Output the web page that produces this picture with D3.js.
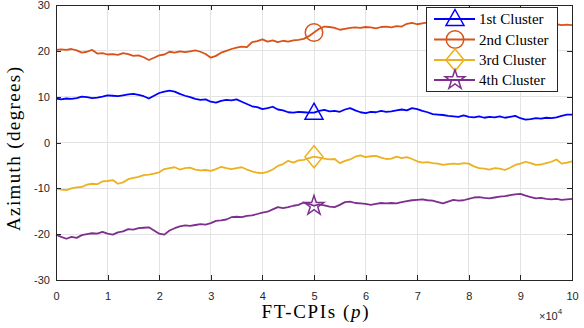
<!DOCTYPE html>
<html><head><meta charset="utf-8">
<script src="https://cdn.jsdelivr.net/npm/d3@7"></script>
<style>body{margin:0;background:#fff}svg{display:block}</style>
</head><body>
<svg id="c" width="584" height="328"></svg>
<script>
// x in units of FT-CPIs (0..100000), sampled every 1000
const xStep = 1000;
const seriesNames = ["1st Cluster","2nd Cluster","3rd Cluster","4th Cluster"];
const cluster1 = [9.6,9.4,9.6,9.5,9.7,10.0,9.9,9.7,9.8,10.0,
 10.3,10.2,10.1,10.3,10.5,10.6,10.4,10.1,9.6,10.2,
 10.8,11.1,11.3,11.1,10.6,10.2,9.9,9.5,9.3,9.4,
 8.9,8.7,9.1,9.3,9.2,9.4,8.9,8.4,7.9,7.7,
 7.3,7.5,7.8,7.2,7.0,6.6,6.5,6.7,6.6,6.5,
 6.5,6.9,7.1,6.8,6.9,6.7,7.2,7.5,7.0,6.6,
 6.4,6.7,6.6,6.9,6.7,6.8,7.0,7.2,7.0,7.5,
 7.3,6.9,6.6,6.2,6.1,6.0,5.8,5.7,5.6,5.9,
 5.6,5.5,5.7,5.4,5.6,5.5,5.7,5.4,5.6,5.8,
 5.3,5.0,5.1,5.3,5.2,5.4,5.3,5.5,5.8,6.1,6.1];
const cluster2 = [20.2,20.3,20.2,20.4,20.1,19.6,19.8,20.2,19.4,19.5,
 19.2,19.3,19.1,19.5,19.3,18.9,19.0,18.6,18.0,18.5,
 19.0,19.2,19.8,19.6,19.9,19.7,19.9,20.1,19.8,19.3,
 18.5,18.9,19.6,20.0,20.4,20.7,20.9,20.8,21.9,22.1,
 22.5,22.0,22.3,21.9,22.2,22.0,22.3,22.4,22.6,23.2,
 24.0,24.8,25.3,25.2,25.0,24.6,24.8,25.0,25.1,25.0,
 25.2,25.1,24.9,25.2,25.3,25.1,25.4,25.3,25.9,26.1,
 25.8,26.0,26.2,26.0,25.9,26.1,25.9,26.0,26.2,26.0,
 25.9,26.1,26.0,25.8,26.0,26.1,25.9,26.0,25.8,25.9,
 26.0,25.8,25.9,25.7,25.8,25.7,25.9,25.8,25.6,25.7,25.6];
const cluster3 = [-10.0,-10.3,-10.4,-10.0,-9.8,-9.7,-9.2,-9.0,-9.1,-8.5,
 -8.4,-8.2,-9.0,-8.7,-8.0,-7.7,-7.5,-7.1,-7.0,-6.8,
 -6.5,-5.8,-5.6,-5.4,-5.9,-5.6,-5.5,-5.9,-6.1,-6.0,
 -6.2,-5.8,-5.3,-5.6,-5.8,-5.6,-5.4,-5.9,-6.3,-6.6,
 -6.7,-6.4,-5.9,-5.1,-4.7,-4.0,-4.4,-3.9,-3.8,-3.4,
 -3.1,-3.3,-3.5,-3.7,-3.6,-4.5,-4.0,-3.7,-3.1,-2.8,
 -3.2,-3.0,-2.9,-3.3,-3.6,-3.5,-3.1,-3.4,-3.2,-3.6,
 -4.1,-4.4,-4.3,-4.5,-4.6,-4.9,-4.7,-4.6,-4.7,-4.5,
 -4.6,-5.2,-5.6,-5.7,-5.9,-5.6,-5.7,-6.0,-5.5,-4.9,
 -4.6,-4.2,-4.5,-4.9,-4.8,-4.5,-4.2,-3.7,-4.6,-4.4,-4.1];
const cluster4 = [-20.1,-20.6,-21.0,-20.6,-20.8,-20.2,-20.0,-19.8,-19.9,-19.5,
 -19.9,-20.1,-19.6,-19.4,-18.9,-19.0,-18.7,-18.6,-18.5,-19.2,
 -19.9,-20.1,-19.2,-18.7,-18.3,-18.1,-18.2,-18.0,-17.8,-17.9,
 -17.6,-17.1,-17.0,-16.8,-16.3,-16.2,-16.3,-16.0,-15.9,-15.6,
 -15.3,-15.1,-14.6,-14.1,-14.3,-14.1,-13.8,-13.6,-13.1,-13.4,
 -13.8,-13.5,-13.7,-14.0,-14.1,-13.6,-13.0,-12.9,-13.2,-13.3,
 -13.4,-13.6,-13.4,-13.2,-13.3,-13.2,-13.3,-13.0,-12.8,-12.6,
 -12.5,-12.4,-12.6,-12.7,-13.0,-13.3,-12.9,-12.5,-12.7,-12.6,
 -12.3,-12.0,-11.9,-12.1,-12.2,-12.0,-11.8,-11.7,-11.5,-11.3,
 -11.2,-11.6,-11.9,-12.2,-12.1,-12.3,-12.4,-12.3,-12.5,-12.4,-12.3];
const markerX = 50000;
const xTicks = [0,10000,20000,30000,40000,50000,60000,70000,80000,90000,100000];
const xTickLabels = ["0","1","2","3","4","5","6","7","8","9","10"];
const yTicks = [-30,-20,-10,0,10,20,30];
const yTickLabels = ["-30","-20","-10","0","10","20","30"];
const colors = ["#0000ff","#d95319","#edb120","#7e2f8e"];
const markerTypes = ["triangle","circle","diamond","star"];

const allSeries = [cluster1, cluster2, cluster3, cluster4];
const svg = d3.select("#c");
const L = 56, R = 572, T = 5, B = 280;
const x = d3.scaleLinear().domain([0,100000]).range([L,R]);
const y = d3.scaleLinear().domain([-30,30]).range([B,T]);
const axisColor = "#262626";
const tickFont = "'Liberation Sans', Arial, sans-serif";
const serif = "'Liberation Serif', 'Times New Roman', serif";

// grid
const g = svg.append("g");
g.selectAll(".gx").data(xTicks).join("line")
 .attr("x1",d=>x(d)).attr("x2",d=>x(d)).attr("y1",T).attr("y2",B)
 .attr("stroke","#e3e3e3").attr("stroke-width",1).attr("shape-rendering","crispEdges");
g.selectAll(".gy").data(yTicks).join("line")
 .attr("x1",L).attr("x2",R).attr("y1",d=>y(d)).attr("y2",d=>y(d))
 .attr("stroke","#e3e3e3").attr("stroke-width",1).attr("shape-rendering","crispEdges");

// series lines
const line = d3.line().x((d,i)=>x(i*xStep)).y(d=>y(d));
allSeries.forEach((s,k)=>{
  svg.append("path").datum(s).attr("d",line).attr("fill","none")
    .attr("stroke",colors[k]).attr("stroke-width",1.8).attr("stroke-linejoin","round");
});

function markerPath(type){
  if(type==="triangle") return "M0,-9.5L9,6.5L-9,6.5Z";
  if(type==="circle") return d3.symbol(d3.symbolCircle, 240)();
  if(type==="diamond") return "M0,-11L9,0L0,11L-9,0Z";
  return d3.symbol(d3.symbolStar, 120)();
}
allSeries.forEach((s,k)=>{
  const i = markerX/xStep;
  svg.append("path").attr("d",markerPath(markerTypes[k]))
    .attr("transform",`translate(${x(markerX)},${y(s[i])})`)
    .attr("fill","none").attr("stroke",colors[k]).attr("stroke-width",1.5);
});

// axes (box with inward ticks)
const ax = svg.append("g").attr("transform",`translate(0,${B})`)
  .call(d3.axisBottom(x).tickValues(xTicks).tickFormat((d,i)=>xTickLabels[i]).tickSizeInner(-5).tickSizeOuter(0).tickPadding(12));
const ay = svg.append("g").attr("transform",`translate(${L},0)`)
  .call(d3.axisLeft(y).tickValues(yTicks).tickFormat((d,i)=>yTickLabels[i]).tickSizeInner(-5).tickSizeOuter(0).tickPadding(6));
const axT = svg.append("g").attr("transform",`translate(0,${T})`)
  .call(d3.axisTop(x).tickValues(xTicks).tickFormat("").tickSizeInner(-5).tickSizeOuter(0));
const ayR = svg.append("g").attr("transform",`translate(${R},0)`)
  .call(d3.axisRight(y).tickValues(yTicks).tickFormat("").tickSizeInner(-5).tickSizeOuter(0));
[ax,ay,axT,ayR].forEach(a=>{
  a.selectAll("path").attr("stroke",axisColor).attr("stroke-width",1).attr("shape-rendering","crispEdges");
  a.selectAll("line").attr("stroke",axisColor).attr("shape-rendering","crispEdges");
  a.selectAll("text").attr("fill",axisColor).style("font-family",tickFont).style("font-size","11px");
});

// labels
svg.append("text").attr("transform",`translate(20,149) rotate(-90)`)
  .attr("text-anchor","middle").style("font-family",serif).style("font-size","19px").attr("fill","#000")
  .attr("textLength",164).attr("lengthAdjust","spacing")
  .text("Azimuth (degrees)");
const xl = svg.append("text").attr("x",315).attr("y",318).attr("text-anchor","middle")
  .style("font-family",serif).style("font-size","19px").attr("fill","#000")
  .attr("textLength",107).attr("lengthAdjust","spacing");
xl.append("tspan").text("FT-CPIs (");
xl.append("tspan").style("font-style","italic").text("p");
xl.append("tspan").text(")");
const ex = svg.append("text").attr("x",539).attr("y",320).style("font-family",tickFont).style("font-size","11px").attr("fill",axisColor);
ex.append("tspan").text("×10");
ex.append("tspan").attr("dy",-6).style("font-size","8px").text("4");

// legend
const lg = svg.append("g");
lg.append("rect").attr("x",426.5).attr("y",7.5).attr("width",131).attr("height",84)
  .attr("fill","#fff").attr("stroke",axisColor).attr("stroke-width",1);
const rowY = [19,39.5,60,80];
seriesNames.forEach((n,k)=>{
  lg.append("line").attr("x1",434).attr("x2",475).attr("y1",rowY[k]).attr("y2",rowY[k])
    .attr("stroke",colors[k]).attr("stroke-width",1.8);
  lg.append("path").attr("d",markerPath(markerTypes[k])).attr("transform",`translate(455,${rowY[k]})`)
    .attr("fill","none").attr("stroke",colors[k]).attr("stroke-width",1.5);
  lg.append("text").attr("x",479).attr("y",rowY[k]+5).style("font-family",serif).style("font-size","15px")
    .attr("fill","#000").text(n);
});
</script>
</body></html>
